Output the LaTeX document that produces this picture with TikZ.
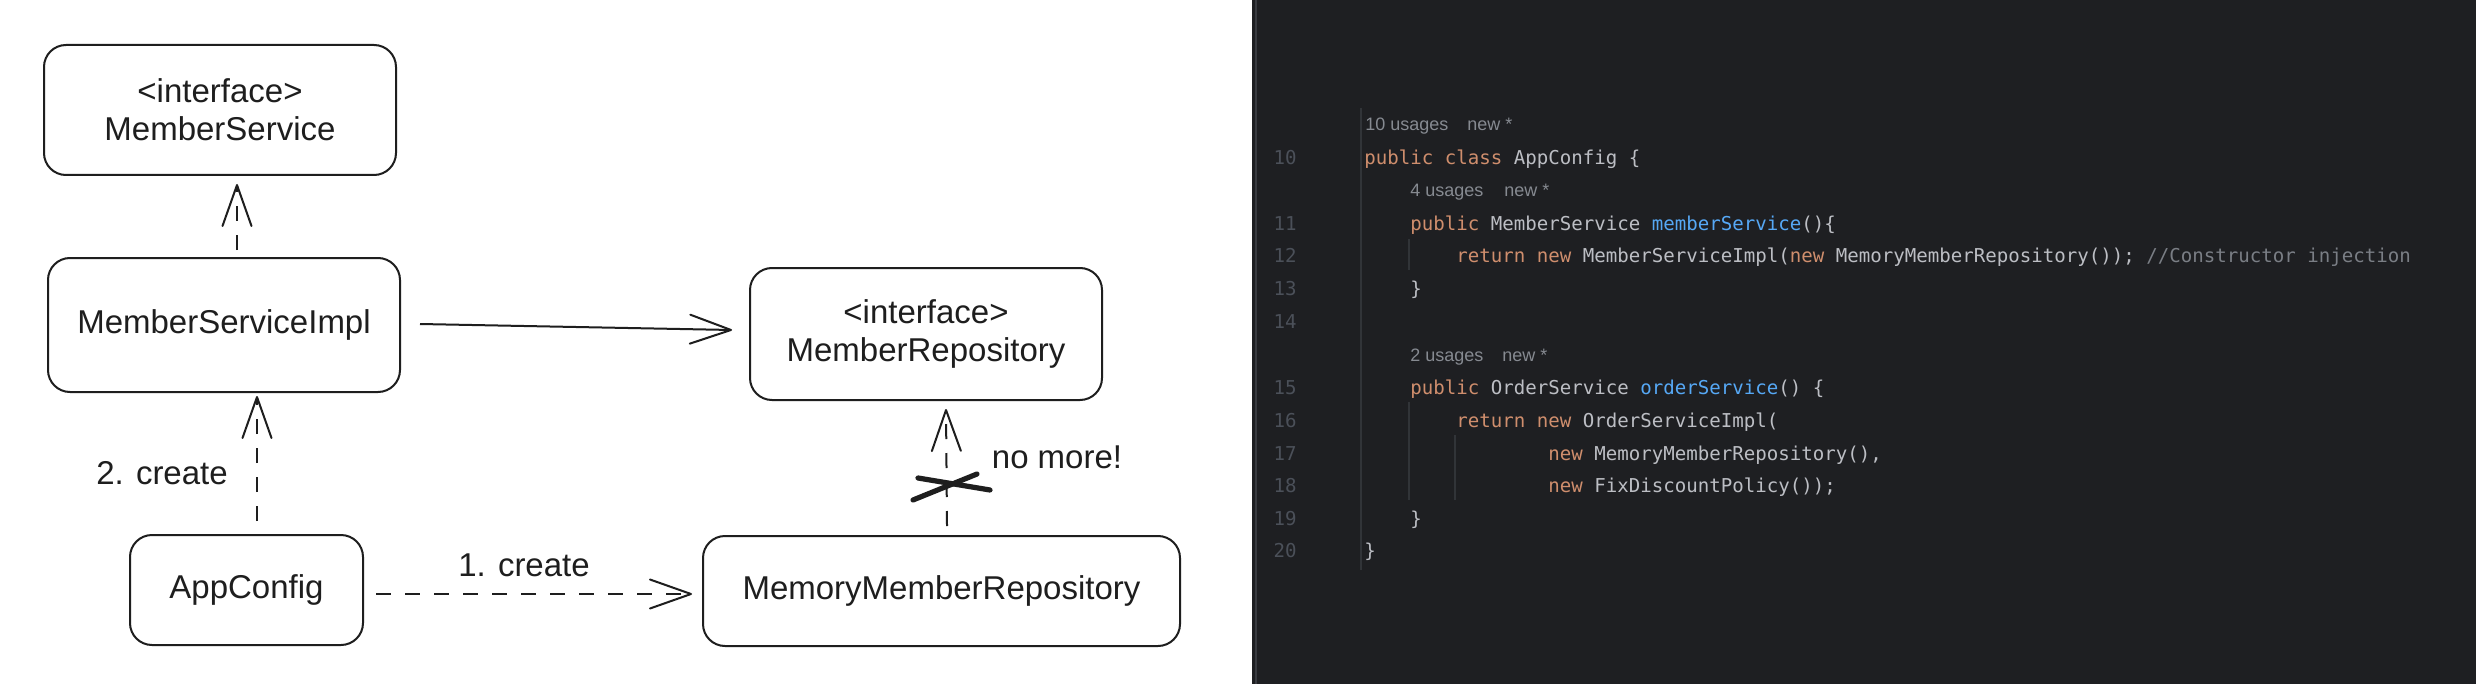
\documentclass[tikz,border=0pt]{standalone}
\usepackage{fontspec}
\setmainfont{Liberation Sans}
\newfontfamily\codefont{DejaVu Sans Mono}
\newfontfamily\hintfont{Liberation Sans}
\usetikzlibrary{arrows.meta,calc}
\definecolor{ink}{HTML}{1E1E1E}
\definecolor{ide}{HTML}{1E1F22}
\definecolor{fg}{HTML}{BCBEC4}
\definecolor{kw}{HTML}{CF8E6D}
\definecolor{fn}{HTML}{56A8F5}
\definecolor{cm}{HTML}{7A7E85}
\definecolor{lnc}{HTML}{4B5059}
\definecolor{hintc}{HTML}{868A91}
\definecolor{guide}{HTML}{313438}
\definecolor{sepc}{HTML}{393B40}
\newcommand\diagfont{\fontsize{16.5pt}{19pt}\selectfont}
\newcommand\kw[1]{{\color{kw}#1}}
\newcommand\fn[1]{{\color{fn}#1}}
\newcommand\cm[1]{{\color{cm}#1}}
\tikzset{
  umlbox/.style={draw=ink, line width=1pt, rounded corners=11pt, align=center, font=\diagfont, inner sep=0pt, text=ink},
  lbl/.style={font=\diagfont, inner sep=0pt, text=ink},
  tipopen/.style={-{Straight Barb[length=20.5pt,width=14.5pt,round]}},
  dep/.style={draw=ink, line width=1pt, dash pattern=on 7.5pt off 7pt, tipopen},
  assoc/.style={draw=ink, line width=1pt, tipopen},
  codeln/.style={anchor=base west, inner sep=0pt, font=\codefont\fontsize{9.55pt}{11pt}\selectfont\frenchspacing, text=fg},
  lnum/.style={anchor=base east, inner sep=0pt, font=\codefont\fontsize{9.55pt}{11pt}\selectfont, text=lnc},
  hint/.style={anchor=base west, inner sep=0pt, font=\hintfont\fontsize{9pt}{11pt}\selectfont, text=hintc},
  guideline/.style={draw=guide, line width=0.6pt},
  crossstroke/.style={draw=ink, line width=2.6pt, line cap=round}
}
\begin{document}
\begin{tikzpicture}[x=0.5pt,y=-0.5pt]
\useasboundingbox (0,0) rectangle (2476,684);
\fill[white] (0,0) rectangle (1252,684);
\fill[ide] (1252,0) rectangle (2476,684);
\draw[sepc, line width=1pt] (1256,0) -- (1256,684);

% ---------- diagram ----------
\node[umlbox, minimum width=176pt, minimum height=65pt] (ms) at (220,110) {<interface>\\MemberService};
\node[umlbox, minimum width=176pt, minimum height=67pt] (msi) at (224,325) {MemberServiceImpl};
\node[umlbox, minimum width=176pt, minimum height=66pt] (mr) at (926,334) {<interface>\\MemberRepository};
\node[umlbox, minimum width=116.5pt, minimum height=55pt] (ac) at (246.5,590) {AppConfig};
\node[umlbox, minimum width=238.5pt, minimum height=55pt] (mmr) at (941.5,591) {MemoryMemberRepository};

\draw[dep, tipopen/.style={-{Straight Barb[length=15.5pt,width=12.5pt,round]}}] ($(msi.north)+(13,-7)$) -- ($(ms.south)+(17,8)$);
\draw[assoc] ($(msi.east)+(19,-1)$) -- ($(mr.west)+(-17,-4)$);
\draw[dep] ($(ac.north)+(10.5,-13)$) -- ($(msi.south)+(33,3)$);
\draw[dep] ($(ac.east)+(12,4)$) -- ($(mmr.west)+(-10,3)$);
\draw[dep] ($(mmr.north)+(5.5,-9)$) -- ($(mr.south)+(20,8)$);

\node[lbl] (l2) at (162,473) {2. create};
\node[lbl] (l1) at (524,565) {1. create};
\node[lbl] (lno) at (1057,457) {no more!};

\draw[crossstroke] (913,500) -- (977,474);
\draw[crossstroke] (918,478) -- (990,490);

% ---------- code panel ----------
\draw[guideline] (1361,108) -- (1361,570);
\draw[guideline] (1409,239) -- (1409,270);
\draw[guideline] (1409,402) -- (1409,500);
\draw[guideline] (1455,435) -- (1455,500);

\node[lnum] (n10) at (1297,165) {10};
\node[lnum] (n11) at (1297,230) {11};
\node[lnum] (n12) at (1297,263) {12};
\node[lnum] (n13) at (1297,295) {13};
\node[lnum] (n14) at (1297,328) {14};
\node[lnum] (n15) at (1297,394) {15};
\node[lnum] (n16) at (1297,427) {16};
\node[lnum] (n17) at (1297,460) {17};
\node[lnum] (n18) at (1297,492) {18};
\node[lnum] (n19) at (1297,525) {19};
\node[lnum] (n20) at (1297,557) {20};

\node[hint] (h1a) at (1365,131) {10 usages};
\node[hint] (h1b) at (1467,131) {new *};
\node[hint] (h2a) at (1410,197) {4 usages};
\node[hint] (h2b) at (1504,197) {new *};
\node[hint] (h3a) at (1410,361) {2 usages};
\node[hint] (h3b) at (1502,361) {new *};

\node[codeln] (c10) at (1364,165) {\kw{public} \kw{class} AppConfig \{};
\node[codeln] (c11) at (1410,230) {\kw{public} MemberService \fn{memberService}()\{};
\node[codeln] (c12) at (1456,263) {\kw{return} \kw{new} MemberServiceImpl(\kw{new} MemoryMemberRepository()); \cm{//Constructor injection}};
\node[codeln] (c13) at (1410,295) {\}};
\node[codeln] (c15) at (1410,394) {\kw{public} OrderService \fn{orderService}() \{};
\node[codeln] (c16) at (1456,427) {\kw{return} \kw{new} OrderServiceImpl(};
\node[codeln] (c17) at (1548,460) {\kw{new} MemoryMemberRepository(),};
\node[codeln] (c18) at (1548,492) {\kw{new} FixDiscountPolicy());};
\node[codeln] (c19) at (1410,525) {\}};
\node[codeln] (c20) at (1364,557) {\}};
\end{tikzpicture}
\end{document}
